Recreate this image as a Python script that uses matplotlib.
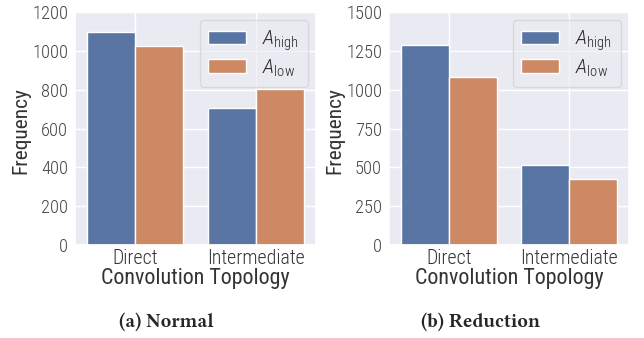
import matplotlib
matplotlib.use("Agg")
import matplotlib.pyplot as plt
import seaborn as sns
import numpy as np

categories = ["Direct", "Intermediate"]
x_label = "Convolution Topology"
y_label = "Frequency"
normal_high = [1097, 705]
normal_low = [1025, 803]
reduction_high = [1288, 517]
reduction_low = [1080, 425]
normal_yticks = [0, 200, 400, 600, 800, 1000, 1200]
reduction_yticks = [0, 250, 500, 750, 1000, 1250, 1500]
captions = ["(a) Normal", "(b) Reduction"]
legend_labels = [r"$A_{\mathrm{high}}$", r"$A_{\mathrm{low}}$"]

sns.set_theme(style="darkgrid")
plt.rcParams['font.family'] = ['Roboto Condensed', 'DejaVu Sans']
plt.rcParams['font.weight'] = 'light'
plt.rcParams['mathtext.fontset'] = 'custom'
plt.rcParams['mathtext.rm'] = 'Roboto Condensed:light'
plt.rcParams['mathtext.it'] = 'Roboto Condensed:italic:light'

blue = "#5975a4"
orange = "#cc8963"
text_color = "#333333"

fig = plt.figure(figsize=(6.44, 3.38), dpi=100)
axes_pos = [[75/644, 1-245/338, 241/644, 233/338], [389/644, 1-245/338, 240/644, 233/338]]
data = [(normal_high, normal_low, normal_yticks), (reduction_high, reduction_low, reduction_yticks)]

for i, (pos, (hi, lo, yt)) in enumerate(zip(axes_pos, data)):
    ax = fig.add_axes(pos)
    x = np.arange(len(categories))
    w = 0.4
    ax.bar(x - w/2, hi, w, color=blue, edgecolor="white", linewidth=1, label=legend_labels[0])
    ax.bar(x + w/2, lo, w, color=orange, edgecolor="white", linewidth=1, label=legend_labels[1])
    ax.set_xlim(-0.5, 1.5)
    ax.set_ylim(0, yt[-1])
    ax.set_yticks(yt)
    ax.set_yticklabels([str(v) for v in yt], fontsize=13.3, color="#444444")
    ax.set_xticks(x)
    ax.set_xticklabels(categories, fontsize=14.3, color=text_color)
    ax.tick_params(axis="both", length=0)
    ax.tick_params(axis="y", pad=5)
    ax.tick_params(axis="x", pad=3)
    ax.set_xlabel(x_label, fontsize=15.8, color=text_color)
    ax.xaxis.set_label_coords(0.5, -0.1)
    ax.set_ylabel(y_label, fontsize=15.4, color=text_color)
    ax.yaxis.set_label_coords(-0.185, 0.49)
    ax.legend(loc="upper right", fontsize=15, handlelength=1.8, handleheight=0.6,
              framealpha=0.6, borderpad=0.4, labelspacing=0.2, handletextpad=0.8,
              borderaxespad=0.4)
    fig.text(pos[0] + pos[2]/2 - 29/644, 1-322/338, captions[i],
             ha="center", va="center", fontsize=14, fontweight="bold",
             family=["Libertinus Serif", "DejaVu Serif"])

fig.savefig("out.png", dpi=100)
